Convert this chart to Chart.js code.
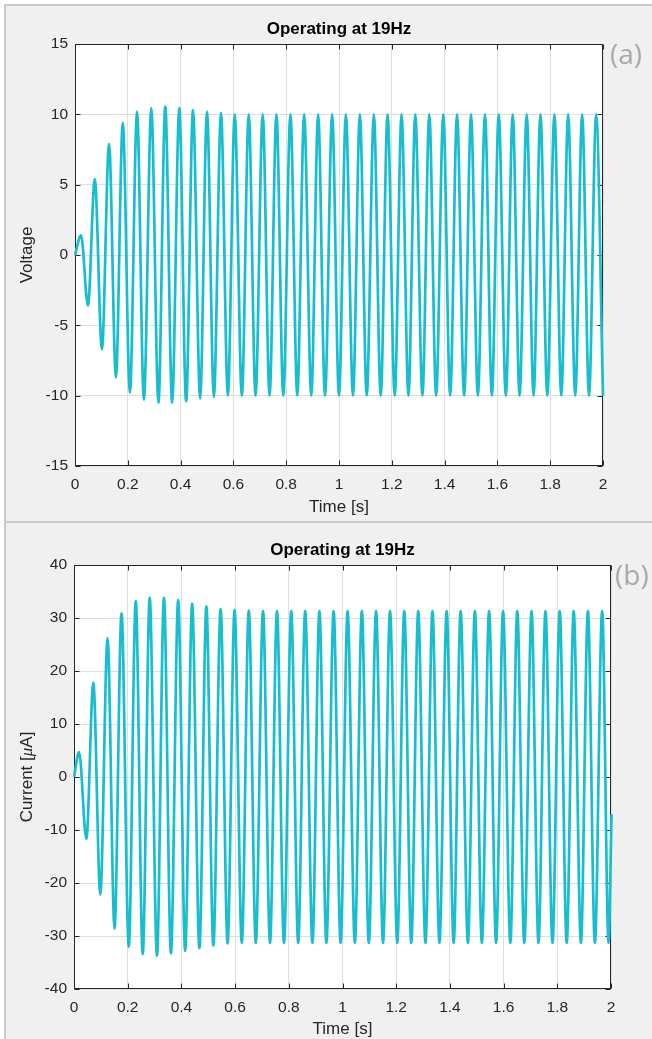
<!DOCTYPE html>
<html>
<head>
<meta charset="utf-8">
<title>Operating at 19Hz</title>
<script src="https://cdn.jsdelivr.net/npm/chart.js@4.4.1/dist/chart.umd.min.js"></script>
<style>
    html, body { margin: 0; padding: 0; background: #fff; }
    body { width: 652px; height: 1039px; position: relative; overflow: hidden; }
    .panel { position: absolute; left: 4px; width: 700px; background: #f0f0f0; border: 2px solid #c9c9c9; box-sizing: border-box; }
    #panel-a { top: 4px; height: 519px; }
    #panel-b { top: 521px; height: 560px; }
    canvas { position: absolute; left: 0; }
    #voltage-chart { top: 0; }
    #current-chart { top: 520px; }
    .tag { position: absolute; font-family: "Open Sans", sans-serif; font-size: 28px; line-height: 28px; color: #a8a8a8; }
</style>
</head>
<body>
<div class="panel" id="panel-a"></div>
<div class="panel" id="panel-b"></div>
<canvas id="voltage-chart" width="652" height="520"></canvas>
<canvas id="current-chart" width="652" height="525"></canvas>
<div class="tag" style="left:610px; top:39px;">(a)</div>
<div class="tag" style="left:615px; top:560px;">(b)</div>

<script>
/* -------- DATA START -------- */
const timeTicks = [0, 0.2, 0.4, 0.6, 0.8, 1, 1.2, 1.4, 1.6, 1.8, 2];
const voltageTicks = [-15, -10, -5, 0, 5, 10, 15];
const currentTicks = [-40, -30, -20, -10, 0, 10, 20, 30, 40];

// peaks and troughs of the voltage trace (s, V)
const voltageTime = [0,
    0.023, 0.049, 0.075, 0.102, 0.129, 0.155, 0.181, 0.208, 0.235, 0.261,
    0.289, 0.316, 0.342, 0.368, 0.395, 0.421, 0.447, 0.474, 0.500, 0.526,
    0.553, 0.579, 0.605, 0.632, 0.658, 0.684, 0.711, 0.737, 0.763, 0.789,
    0.816, 0.842, 0.868, 0.895, 0.921, 0.947, 0.974, 1.000, 1.026, 1.053,
    1.079, 1.105, 1.132, 1.158, 1.184, 1.211, 1.237, 1.263, 1.289, 1.316,
    1.342, 1.368, 1.395, 1.421, 1.447, 1.474, 1.500, 1.526, 1.553, 1.579,
    1.605, 1.632, 1.658, 1.684, 1.711, 1.737, 1.763, 1.789, 1.816, 1.842,
    1.868, 1.895, 1.921, 1.947, 1.974, 2.000];
const voltageValue = [0,
    1.4, -3.6, 5.4, -6.7, 7.9, -8.7, 9.4, -9.8, 10.2, -10.3,
    10.45, -10.5, 10.55, -10.5, 10.45, -10.4, 10.3, -10.2, 10.2, -10.1,
    10.1, -10.0, 10.0, -10.0, 10, -10, 10, -10, 10, -10,
    10, -10, 10, -10, 10, -10, 10, -10, 10, -10,
    10, -10, 10, -10, 10, -10, 10, -10, 10, -10,
    10, -10, 10, -10, 10, -10, 10, -10, 10, -10,
    10, -10, 10, -10, 10, -10, 10, -10, 10, -10,
    10, -10, 10, -10, 10, -10];

// peaks and troughs of the current trace (s, uA)
const currentTime = [0,
    0.019, 0.046, 0.072, 0.098, 0.125, 0.151, 0.177, 0.204, 0.230, 0.256,
    0.282, 0.309, 0.335, 0.361, 0.388, 0.414, 0.440, 0.467, 0.493, 0.519,
    0.546, 0.572, 0.598, 0.625, 0.651, 0.677, 0.704, 0.730, 0.756, 0.782,
    0.809, 0.835, 0.861, 0.888, 0.914, 0.940, 0.967, 0.993, 1.019, 1.046,
    1.072, 1.098, 1.125, 1.151, 1.177, 1.204, 1.230, 1.256, 1.282, 1.309,
    1.335, 1.361, 1.388, 1.414, 1.440, 1.467, 1.493, 1.519, 1.546, 1.572,
    1.598, 1.625, 1.651, 1.677, 1.704, 1.730, 1.756, 1.782, 1.809, 1.835,
    1.861, 1.888, 1.914, 1.940, 1.967, 1.991, 2.002];
const currentValue = [0,
    4.7, -11.7, 17.8, -22.2, 26.2, -28.6, 30.9, -32.0, 33.2, -33.4,
    33.8, -33.7, 33.8, -33.3, 33.4, -32.8, 32.7, -32.3, 32.2, -31.8,
    31.7, -31.4, 31.5, -31.3, 31.4, -31.3, 31.3, -31.3, 31.3, -31.3,
    31.3, -31.3, 31.3, -31.3, 31.3, -31.3, 31.3, -31.3, 31.3, -31.3,
    31.3, -31.3, 31.3, -31.3, 31.3, -31.3, 31.3, -31.3, 31.3, -31.3,
    31.3, -31.3, 31.3, -31.3, 31.3, -31.3, 31.3, -31.3, 31.3, -31.3,
    31.3, -31.3, 31.3, -31.3, 31.3, -31.3, 31.3, -31.3, 31.3, -31.3,
    31.3, -31.3, 31.3, -31.3, 31.3, -31.3, -7.0];
/* -------- DATA END -------- */

/* -------- STYLE START -------- */
const FONT = '"Liberation Sans", Arial, Helvetica, sans-serif';
const TEXT_COLOR = "#262626";
const GRID_COLOR = "#dfdfdf";
const LINE_COLOR = "#17becf";
/* -------- STYLE END -------- */

/* -------- PLUGINS START -------- */
// white plot area, box round it and the inward tick marks (drawn under the trace)
const plotFrame = {
    id: "plotFrame",
    beforeDraw(chart) {
        const { ctx, chartArea: a } = chart;
        ctx.save();
        ctx.fillStyle = "#fff";
        ctx.fillRect(a.left, a.top, a.right - a.left, a.bottom - a.top);
        ctx.restore();
    },
    beforeDatasetsDraw(chart) {
        const { ctx, chartArea: a, scales } = chart;
        const L = Math.round(a.left) + 0.5, R = Math.round(a.right) - 0.5;
        const T = Math.round(a.top) + 0.5, B = Math.round(a.bottom) - 0.5;
        ctx.save();
        ctx.strokeStyle = TEXT_COLOR;
        ctx.lineWidth = 1;
        ctx.beginPath();
        scales.x.ticks.forEach(t => {
            const px = Math.round(scales.x.getPixelForValue(t.value)) + 0.5;
            ctx.moveTo(px, B); ctx.lineTo(px, B - 5);
            ctx.moveTo(px, T); ctx.lineTo(px, T + 5);
        });
        scales.y.ticks.forEach(t => {
            const py = Math.round(scales.y.getPixelForValue(t.value)) + 0.5;
            ctx.moveTo(L, py); ctx.lineTo(L + 5, py);
            ctx.moveTo(R, py); ctx.lineTo(R - 5, py);
        });
        ctx.stroke();
        ctx.strokeRect(L, T, R - L, B - T);
        ctx.restore();
    }
};

// rotated y label, built from parts so the mu can be italic
function makeYLabel(x, parts) {
    return {
        id: "yLabel",
        afterDraw(chart) {
            const { ctx, chartArea: a } = chart;
            ctx.save();
            ctx.translate(x, (a.top + a.bottom) / 2);
            ctx.rotate(-Math.PI / 2);
            ctx.fillStyle = TEXT_COLOR;
            ctx.textBaseline = "middle";
            ctx.textAlign = "left";
            let total = 0;
            parts.forEach(p => { ctx.font = p.font; total += ctx.measureText(p.text).width; });
            let pos = -total / 2;
            parts.forEach(p => {
                ctx.font = p.font;
                ctx.fillText(p.text, pos, 0);
                pos += ctx.measureText(p.text).width;
            });
            ctx.restore();
        }
    };
}
/* -------- PLUGINS END -------- */

/* -------- FUNCTIONS START -------- */
function toPoints(times, values) {
    return times.map((t, i) => ({ x: t, y: values[i] }));
}

function buildChart(canvasID, setup) {
    const ctx = document.getElementById(canvasID).getContext("2d");
    return new Chart(ctx, {
        type: "line",
        data: {
            datasets: [{
                data: toPoints(setup.time, setup.values),
                borderColor: LINE_COLOR,
                borderWidth: 2.7,
                pointRadius: 0,
                cubicInterpolationMode: "monotone",
                fill: false,
                clip: { left: 1, right: 3, top: 2, bottom: 2 },
            }]
        },
        options: {
            responsive: false,
            animation: false,
            events: [],
            layout: { padding: { left: 0, right: setup.rightPad, top: 0, bottom: 0 } },
            plugins: {
                legend: { display: false },
                tooltip: { enabled: false },
                title: {
                    display: true,
                    text: "Operating at 19Hz",
                    fullSize: false,
                    color: "#000",
                    font: { family: FONT, size: 17, weight: "bold", lineHeight: 1.2 },
                    padding: { top: setup.titleTop, bottom: setup.titleBottom },
                },
            },
            scales: {
                x: {
                    type: "linear",
                    min: 0,
                    max: 2,
                    afterBuildTicks: s => { s.ticks = timeTicks.map(v => ({ value: v })); },
                    afterFit: s => { s.height = setup.xHeight; },
                    grid: { color: GRID_COLOR, drawTicks: false },
                    border: { display: false },
                    ticks: {
                        padding: 9,
                        color: TEXT_COLOR,
                        autoSkip: false,
                        maxRotation: 0,
                        font: { family: FONT, size: 15.5 },
                        callback: v => String(Math.round(v * 10) / 10),
                    },
                    title: {
                        display: true,
                        text: "Time [s]",
                        color: TEXT_COLOR,
                        font: { family: FONT, size: 17, lineHeight: 1.2 },
                        padding: { top: 0, bottom: setup.xTitleBottom },
                    },
                },
                y: {
                    min: setup.ticks[0],
                    max: setup.ticks[setup.ticks.length - 1],
                    afterBuildTicks: s => { s.ticks = setup.ticks.map(v => ({ value: v })); },
                    afterFit: s => { s.width = setup.yWidth; },
                    grid: { color: GRID_COLOR, drawTicks: false },
                    border: { display: false },
                    ticks: {
                        padding: 7,
                        color: TEXT_COLOR,
                        font: { family: FONT, size: 15.5 },
                        callback: v => String(v),
                    },
                },
            },
        },
        plugins: [plotFrame, makeYLabel(27.5, setup.label)],
    });
}
/* -------- FUNCTIONS END -------- */

/* -------- PROGRAM START -------- */
const voltageChart = buildChart("voltage-chart", {
    time: voltageTime,
    values: voltageValue,
    ticks: voltageTicks,
    rightPad: 49,
    yWidth: 75,
    xHeight: 54,
    xTitleBottom: 2,
    titleTop: 19,
    titleBottom: 4.6,
    label: [{ text: "Voltage", font: `17px ${FONT}` }],
});

const currentChart = buildChart("current-chart", {
    time: currentTime,
    values: currentValue,
    ticks: currentTicks,
    rightPad: 41,
    yWidth: 74,
    xHeight: 56,
    xTitleBottom: 5,
    titleTop: 20,
    titleBottom: 4.6,
    label: [
        { text: "Current [", font: `17px ${FONT}` },
        { text: "\u03bc", font: `italic 17px "Liberation Serif", "DejaVu Serif", serif` },
        { text: "A]", font: `17px ${FONT}` },
    ],
});
/* -------- PROGRAM END -------- */
</script>
</body>
</html>
